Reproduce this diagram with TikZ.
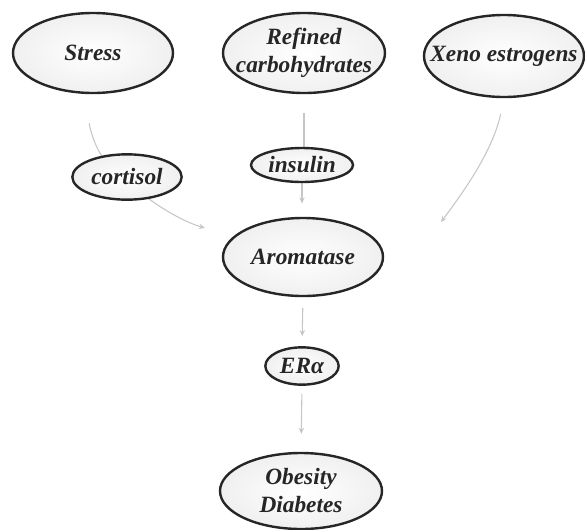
\documentclass[tikz,border=0pt]{standalone}
\usepackage{fontspec}
\setmainfont{Liberation Serif}
\usetikzlibrary{shapes.geometric,arrows.meta,backgrounds}
\begin{document}
\begin{tikzpicture}[x=0.75pt, y=-0.75pt,
        ell/.style={ellipse, draw=black!85, line width=1.8pt, inner color=white, outer color=gray!12, inner sep=0pt},
        lbl/.style={align=center, font=\fontsize{17.5}{21}\selectfont\bfseries\itshape, text=black!85},
        link/.style={gray!45, line width=0.8pt},
        arr/.style={link, -{Stealth[length=4.5pt, width=4pt]}}]
    \useasboundingbox (0, 0) rectangle (585, 529);
    \node [ell, minimum width=120pt, minimum height=60pt] (stress) at (93, 53) {};
    \node [ell, minimum width=121.5pt, minimum height=60pt] (refined) at (304, 53) {};
    \node [ell, minimum width=120pt, minimum height=61.5pt] (xeno) at (504, 56) {};
    \node [ell, minimum width=82pt, minimum height=34pt] (cortisol) at (127, 177) {};
    \node [ell, minimum width=76.5pt, minimum height=25.5pt] (insulin) at (302, 165) {};
    \node [ell, minimum width=120pt, minimum height=58.5pt] (aroma) at (303, 257) {};
    \node [ell, minimum width=55pt, minimum height=28pt] (era) at (302, 366) {};
    \node [ell, minimum width=121.5pt, minimum height=57pt] (obesity) at (301, 491) {};
    \node [lbl] (stress-t) at (stress) {Stress};
    \node [lbl] (refined-t) at (refined) {Refined\\carbohydrates};
    \node [lbl] (xeno-t) at (xeno) {Xeno estrogens};
    \node [lbl] (cortisol-t) at (cortisol) {cortisol};
    \node [lbl] (insulin-t) at (insulin) {insulin};
    \node [lbl] (aroma-t) at (aroma) {Aromatase};
    \node [lbl] (era-t) at (era) {ERα};
    \node [lbl] (obesity-t) at (obesity) {Obesity\\Diabetes};
    \coordinate (stress-tip) at (205, 228);
    \coordinate (xeno-tip) at (441, 222);
    \begin{scope}[on background layer]
        \draw [link, shorten <=22pt] (stress.south) .. controls (89, 125) and (94, 145) .. (cortisol.140);
        \draw [arr] (cortisol.-45) .. controls (170, 214) and (188, 223) .. (stress-tip);
        \draw [arr, shorten <=12pt] (xeno.south) .. controls (493, 150) and (465, 190) .. (xeno-tip);
        \draw [link, shorten <=14pt] (refined.south) -- (refined.south |- insulin.north);
        \draw [arr, shorten >=10pt] (insulin.south) -- (insulin.south |- aroma.north);
        \draw [arr, shorten <=8pt, shorten >=7.5pt] (aroma.south) -- (era.north);
        \draw [arr, shorten <=6pt, shorten >=13.5pt] (era.south) -- (obesity.north);
    \end{scope}
\end{tikzpicture}
\end{document}
